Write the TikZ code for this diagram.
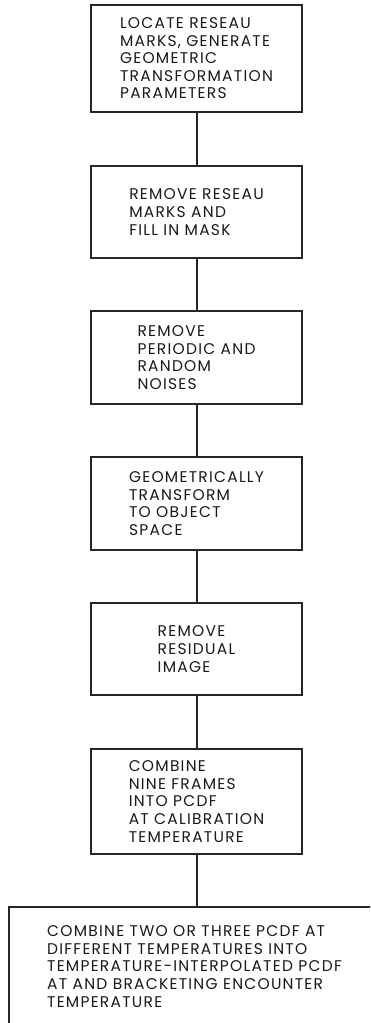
\documentclass[tikz,border=0pt]{standalone}
\usepackage{fontspec}
\setmainfont{Poppins}[LetterSpace=8]
\usetikzlibrary{positioning}
\tikzset{
  stepbox/.style={draw=black!85, line width=1.8pt, align=left, minimum width=211pt,
    inner sep=0pt, font=\fontsize{15.5}{17.6}\selectfont, text=black!90},
  link/.style={draw=black!85, line width=2pt}
}
\begin{document}
\begin{tikzpicture}[x=1pt,y=-1pt]
        \clip (0,0) rectangle (370,1023);
        \node[stepbox, minimum height=106.7pt] (locate) at (196.5,58.3)
              {LOCATE RESEAU\\MARKS, GENERATE\\GEOMETRIC\\TRANSFORMATION\\PARAMETERS};
        \node[stepbox, minimum height=92pt] (remove) at (196.5,212)
              {REMOVE RESEAU\\MARKS AND\\FILL IN MASK};
        \node[stepbox, minimum height=93pt] (noise) at (196.5,357.5)
              {REMOVE\\PERIODIC AND\\RANDOM\\NOISES};
        \node[stepbox, minimum height=93pt] (geom) at (196.5,503.5)
              {GEOMETRICALLY\\TRANSFORM\\TO OBJECT\\SPACE};
        \node[stepbox, minimum height=92pt] (resid) at (196.5,649)
              {REMOVE\\RESIDUAL\\IMAGE};
        \node[stepbox, minimum height=105pt] (nine) at (196.5,801.5)
              {COMBINE\\NINE FRAMES\\INTO PCDF\\AT CALIBRATION\\TEMPERATURE};
        \node[stepbox, minimum width=371pt, minimum height=119pt] (interp) at (194.5,966.5)
              {COMBINE TWO OR THREE PCDF AT\\DIFFERENT TEMPERATURES INTO\\TEMPERATURE-INTERPOLATED PCDF\\AT AND BRACKETING ENCOUNTER\\TEMPERATURE};
        \draw [link] (locate) -- (remove);
        \draw [link] (remove) -- (noise);
        \draw [link] (noise) -- (geom);
        \draw [link] (geom) -- (resid);
        \draw [link] (resid) -- (nine);
        \draw [link] (nine.south) -- (nine.south |- interp.north);
\end{tikzpicture}
\end{document}
